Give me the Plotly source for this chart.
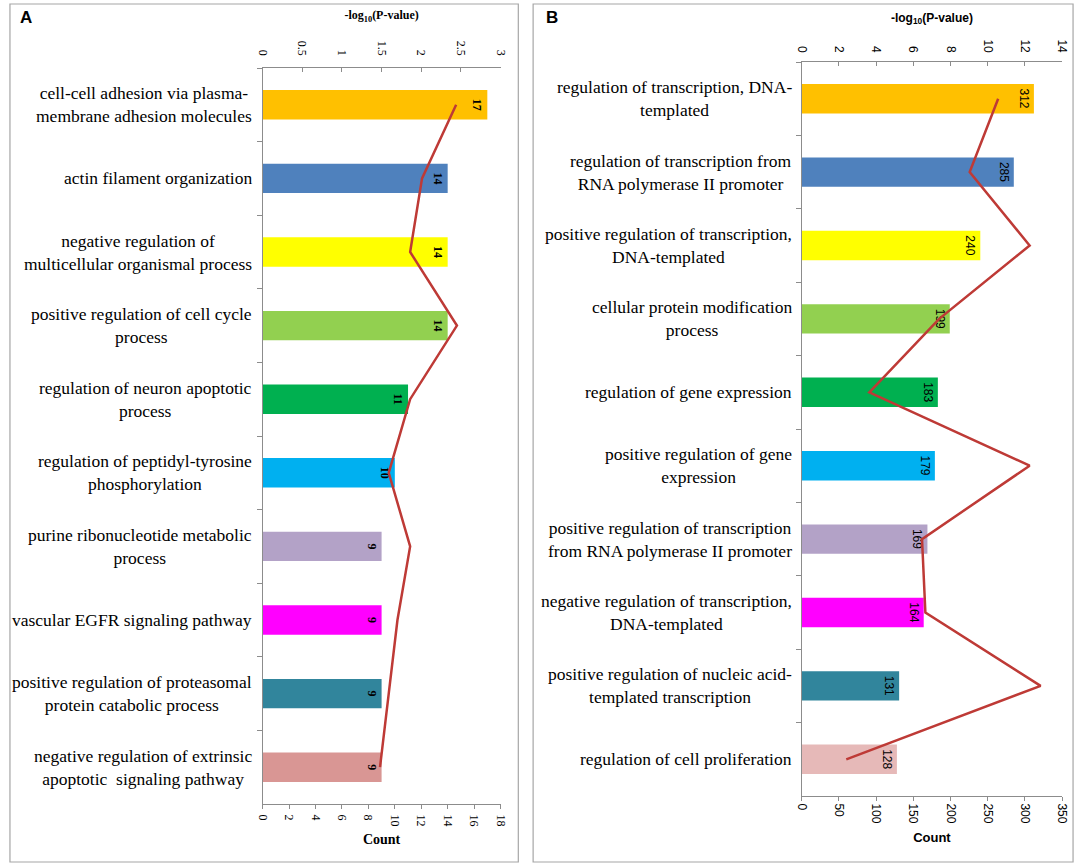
import plotly.graph_objects as go

W, H = 1084, 866

# ---------------- data ----------------
terms_a = [
    "cell-cell adhesion via plasma-\nmembrane adhesion molecules",
    "actin filament organization",
    "negative regulation of\nmulticellular organismal process",
    "positive regulation of cell cycle\nprocess",
    "regulation of neuron apoptotic\nprocess",
    "regulation of peptidyl-tyrosine\nphosphorylation",
    "purine ribonucleotide metabolic\nprocess",
    "vascular EGFR signaling pathway",
    "positive regulation of proteasomal\nprotein catabolic process",
    "negative regulation of extrinsic\napoptotic  signaling pathway",
]
count_a = [17, 14, 14, 14, 11, 10, 9, 9, 9, 9]
logp_a = [2.44, 2.01, 1.86, 2.45, 1.86, 1.59, 1.86, 1.70, 1.59, 1.48]
colors_a = ["#FFC000", "#4F81BD", "#FFFF00", "#92D050", "#00B050",
            "#00B0F0", "#B3A2C7", "#FF00FF", "#31859C", "#D99694"]

terms_b = [
    "regulation of transcription, DNA-\ntemplated",
    "regulation of transcription from\nRNA polymerase II promoter",
    "positive regulation of transcription,\nDNA-templated",
    "cellular protein modification\nprocess",
    "regulation of gene expression",
    "positive regulation of gene\nexpression",
    "positive regulation of transcription\nfrom RNA polymerase II promoter",
    "negative regulation of transcription,\nDNA-templated",
    "positive regulation of nucleic acid-\ntemplated transcription",
    "regulation of cell proliferation",
]
count_b = [312, 285, 240, 199, 183, 179, 169, 164, 131, 128]
logp_b = [10.56, 9.03, 12.25, 7.39, 3.64, 12.25, 6.47, 6.65, 12.84, 2.40]
colors_b = ["#FFC000", "#4F81BD", "#FFFF00", "#92D050", "#00B050",
            "#00B0F0", "#B3A2C7", "#FF00FF", "#31859C", "#E6B9B8"]

count_ticks_a = list(range(0, 19, 2))
logp_ticks_a = [0, 0.5, 1, 1.5, 2, 2.5, 3]
count_ticks_b = list(range(0, 351, 50))
logp_ticks_b = list(range(0, 15, 2))

# ---------------- helpers ----------------
SERIF = "Liberation Serif, Times New Roman, serif"
SANS = "Liberation Sans, Arial, sans-serif"
AXC = "#8C8C8C"
LINEC = "#BE3A36"

def px_x(p):
    return p / W

def px_y(p):
    return 1 - p / H

cats_a = [t.replace("\n", "<br>") for t in terms_a]
cats_b = [t.replace("\n", "<br>") for t in terms_b]

fig = go.Figure()

# Panel A
fig.add_trace(go.Bar(
    y=cats_a, x=count_a, orientation="h", xaxis="x", yaxis="y",
    marker=dict(color=colors_a, line=dict(width=0)), width=0.4,
    text=[str(v) for v in count_a], textposition="inside",
    insidetextanchor="end", textangle=90,
    textfont=dict(family=SERIF, size=12, color="black", weight="bold"),
    showlegend=False))
fig.add_trace(go.Scatter(
    y=cats_a, x=logp_a, xaxis="x2", yaxis="y", mode="lines",
    line=dict(color=LINEC, width=2.5), showlegend=False))

# Panel B
fig.add_trace(go.Bar(
    y=cats_b, x=count_b, orientation="h", xaxis="x3", yaxis="y2",
    marker=dict(color=colors_b, line=dict(width=0)), width=0.4,
    text=[str(v) for v in count_b], textposition="inside",
    insidetextanchor="end", textangle=90,
    textfont=dict(family=SANS, size=12, color="black"),
    showlegend=False))
fig.add_trace(go.Scatter(
    y=cats_b, x=logp_b, xaxis="x4", yaxis="y2", mode="lines",
    line=dict(color=LINEC, width=2.5), showlegend=False))

dom_ax = [px_x(259), px_x(500)]
dom_ay = [px_y(804), px_y(68)]
dom_bx = [px_x(805), px_x(1069)]
dom_by = [px_y(796), px_y(62)]

common_x = dict(showgrid=False, zeroline=False, showline=True, linecolor=AXC,
                linewidth=1, ticks="outside", tickcolor=AXC, ticklen=4,
                tickangle=90, fixedrange=True)
common_y = dict(type="category", autorange="reversed", showgrid=False,
                zeroline=False, showline=True, linecolor=AXC, linewidth=1,
                ticks="outside", tickcolor=AXC, ticklen=5,
                tickson="boundaries", showticklabels=False, fixedrange=True)

fig.update_layout(
    width=W, height=H,
    margin=dict(l=0, r=0, t=0, b=0),
    paper_bgcolor="white", plot_bgcolor="white",
    bargap=0.6,
    xaxis=dict(common_x, domain=dom_ax, anchor="y", range=[0, 18],
               tickvals=count_ticks_a, side="bottom", ticklabelstandoff=3,
               tickfont=dict(family=SERIF, size=12, color="black"),
               title=dict(text="<b>Count</b>", standoff=8,
                          font=dict(family=SERIF, size=14, color="black"))),
    xaxis2=dict(common_x, domain=dom_ax, anchor="y", overlaying="x",
                side="top", range=[0, 3], tickvals=logp_ticks_a,
                ticks="inside", ticklabelstandoff=7,
                tickfont=dict(family=SERIF, size=12, color="black"),
                title=dict(text="<b>-log<sub>10</sub>(P-value)</b>", standoff=18,
                           font=dict(family=SERIF, size=12, color="black"))),
    yaxis=dict(common_y, domain=dom_ay, anchor="x"),
    xaxis3=dict(common_x, domain=dom_bx, anchor="y2", range=[0, 350],
                tickvals=count_ticks_b, side="bottom",
                tickfont=dict(family=SANS, size=12, color="black"),
                title=dict(text="<b>Count</b>", standoff=10,
                           font=dict(family=SANS, size=13, color="black"))),
    xaxis4=dict(common_x, domain=dom_bx, anchor="y2", overlaying="x3",
                side="top", range=[0, 14], tickvals=logp_ticks_b,
                ticks="inside", ticklabelstandoff=4,
                tickfont=dict(family=SANS, size=12, color="black"),
                title=dict(text="<b>-log<sub>10</sub>(P-value)</b>", standoff=14,
                           font=dict(family=SANS, size=12, color="black"))),
    yaxis2=dict(common_y, domain=dom_by, anchor="x3"),
)

# panel frames
for x0, x1 in [(3, 518), (533, 1080)]:
    fig.add_shape(type="rect", xref="paper", yref="paper",
                  x0=px_x(x0), x1=px_x(x1), y0=px_y(862), y1=px_y(4),
                  line=dict(color="#A6A6A6", width=1.2), fillcolor="rgba(0,0,0,0)")

# panel letters
fig.add_annotation(text="<b>A</b>", xref="paper", yref="paper", x=px_x(11), y=px_y(17),
                   xanchor="left", yanchor="middle", showarrow=False,
                   font=dict(family=SANS, size=17, color="black"))
fig.add_annotation(text="<b>B</b>", xref="paper", yref="paper", x=px_x(544), y=px_y(17),
                   xanchor="left", yanchor="middle", showarrow=False,
                   font=dict(family=SANS, size=17, color="black"))

# category labels (right-anchored block, centered lines)
for c in cats_a:
    fig.add_annotation(text=c, xref="paper", yref="y", x=px_x(250), y=c,
                       xanchor="right", yanchor="middle", align="center",
                       showarrow=False,
                       font=dict(family=SERIF, size=17.5, color="black"))
for c in cats_b:
    fig.add_annotation(text=c, xref="paper", yref="y2", x=px_x(797), y=c,
                       xanchor="right", yanchor="middle", align="center",
                       showarrow=False,
                       font=dict(family=SERIF, size=17.5, color="black"))

fig.write_html("out.html", config={"displayModeBar": False},
               post_script="document.body.style.margin='0';")
